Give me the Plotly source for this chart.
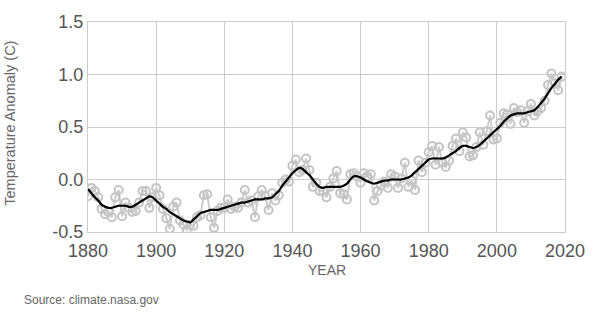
import plotly.graph_objects as go

years = list(range(1880, 2020))
annual = [-16, -8, -11, -17, -28, -33, -31, -36, -17, -10,
          -35, -22, -27, -31, -30, -22, -11, -11, -27, -17,
          -8, -15, -28, -37, -47, -26, -22, -39, -43, -48,
          -43, -44, -36, -34, -15, -14, -36, -46, -30, -27,
          -27, -19, -28, -26, -27, -22, -10, -22, -20, -36,
          -16, -10, -16, -29, -13, -20, -15, -3, 0, -2,
          13, 19, 7, 9, 20, 9, -7, -3, -11, -11,
          -17, -7, 1, 8, -13, -14, -19, 5, 6, 3,
          -3, 6, 3, 5, -20, -11, -6, -2, -8, 5,
          3, -8, 1, 16, -7, -1, -10, 18, 7, 16,
          26, 32, 14, 31, 16, 12, 18, 32, 39, 27,
          45, 40, 22, 23, 31, 45, 33, 46, 61, 38,
          39, 54, 63, 62, 53, 68, 64, 66, 54, 65,
          72, 61, 65, 68, 75, 90, 101, 92, 85, 98]
smooth = [-9, -13, -17, -20, -24, -26, -27, -27, -26, -25,
          -25, -25, -26, -26, -24, -22, -20, -18, -16, -17,
          -20, -23, -26, -28, -31, -33, -35, -37, -39, -40,
          -41, -38, -35, -32, -31, -30, -29, -29, -29, -28,
          -27, -26, -25, -24, -23, -22, -22, -21, -20, -19,
          -19, -19, -18, -18, -17, -14, -11, -6, -2, 2,
          6, 9, 11, 10, 7, 4, 0, -4, -7, -8,
          -7, -7, -7, -7, -7, -6, -4, 0, 3, 3,
          2, 0, -2, -3, -4, -3, -2, -1, -1, 0,
          0, 0, 0, 1, 2, 4, 7, 10, 13, 16,
          19, 20, 20, 20, 20, 21, 23, 25, 27, 30,
          32, 32, 31, 30, 31, 33, 36, 39, 42, 45,
          48, 51, 55, 58, 61, 62, 63, 63, 63, 64,
          65, 66, 69, 73, 77, 82, 87, 91, 95, 98]
annual = [v / 100 for v in annual]
smooth = [v / 100 for v in smooth]

x_ticks = [1880, 1900, 1920, 1940, 1960, 1980, 2000, 2020]
y_ticks = [-0.5, 0.0, 0.5, 1.0, 1.5]
y_labels = ["-0.5", "0.0", "0.5", "1.0", "1.5"]

FONT = "Liberation Sans, Arial, sans-serif"

W, H = 597, 327
L, R, T, B = 88, 19, 13, 95
pw = W - L - R
ph = H - T - B


def px(xp):
    return (xp - L) / pw


def py(yp):
    return (H - B - yp) / ph


fig = go.Figure()
fig.add_trace(go.Scatter(
    x=years, y=annual, mode="lines+markers",
    line=dict(color="#cccccc", width=2),
    marker=dict(symbol="circle-open", size=8, color="#c4c4c4", line=dict(width=2)),
    hoverinfo="skip", showlegend=False))
fig.add_trace(go.Scatter(
    x=years, y=smooth, mode="lines",
    line=dict(color="#000000", width=2.2, shape="spline", smoothing=0.6),
    showlegend=False))

fig.update_layout(
    width=W, height=H,
    margin=dict(l=L, r=R, t=T, b=B),
    paper_bgcolor="white", plot_bgcolor="white",
    font=dict(family=FONT, color="#555555"),
    xaxis=dict(range=[1880, 2020], tickvals=x_ticks, showgrid=True,
               gridcolor="#cccccc", gridwidth=1, zeroline=False,
               showline=True, linecolor="#cccccc", mirror=True,
               ticks="", ticklabelstandoff=2, ticklabeloverflow="allow",
               tickfont=dict(size=18, color="#555555")),
    yaxis=dict(range=[-0.5, 1.5], tickvals=y_ticks, ticktext=y_labels,
               showgrid=True, gridcolor="#cccccc", gridwidth=1,
               zeroline=False, showline=True, linecolor="#cccccc",
               mirror=True, ticks="", ticklabelstandoff=0,
               ticklabeloverflow="allow",
               tickfont=dict(size=18, color="#555555")),
    annotations=[
        dict(text="Temperature Anomaly (C)", textangle=-90,
             x=px(8), y=py(119), xref="paper", yref="paper",
             xanchor="center", yanchor="middle", showarrow=False,
             font=dict(size=14.5, color="#666666")),
        dict(text="YEAR", x=px(333), y=py(272), xref="paper", yref="paper",
             xanchor="center", yanchor="middle", showarrow=False,
             font=dict(size=14, color="#666666")),
        dict(text="Source: climate.nasa.gov", x=px(20), y=py(303),
             xref="paper", yref="paper", xanchor="left", yanchor="middle",
             showarrow=False, font=dict(size=12, color="#666666")),
    ],
)

fig.write_html("out.html")
